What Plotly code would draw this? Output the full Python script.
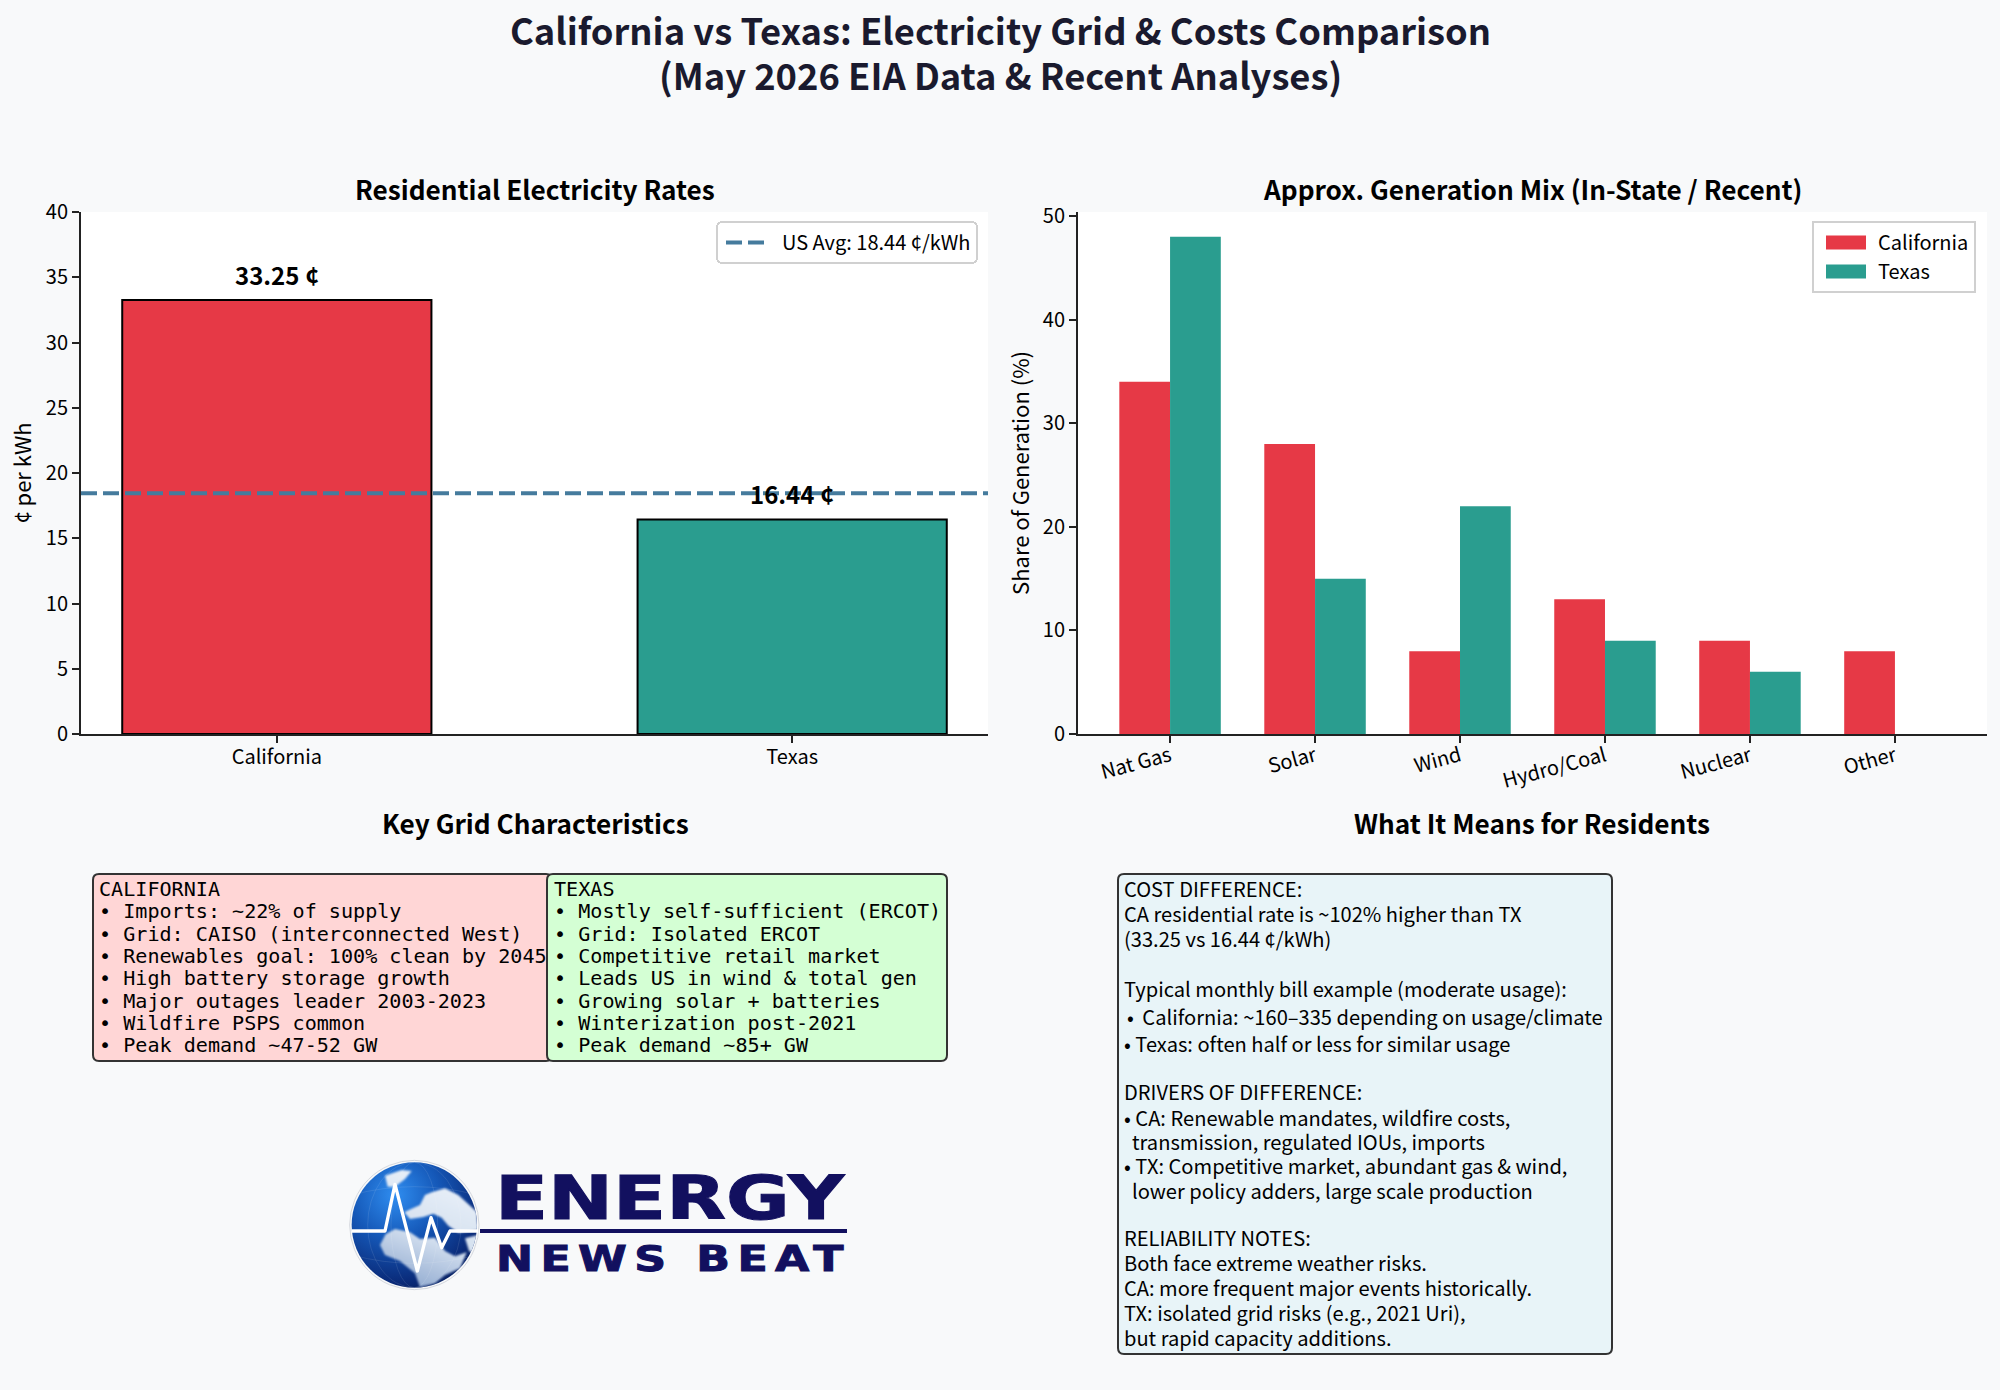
import base64

import plotly.graph_objects as go

# Chart data
states = ["California", "Texas"]
rates = [33.25, 16.44]
us_avg = 18.44
sources = ["Nat Gas", "Solar", "Wind", "Hydro/Coal", "Nuclear", "Other"]
ca_mix = [34, 28, 8, 13, 9, 8]
tx_mix = [48, 15, 22, 9, 6, 0]

title_lines = [
    "California vs Texas: Electricity Grid & Costs Comparison",
    "(May 2026 EIA Data & Recent Analyses)",
]
ca_lines = [
    "CALIFORNIA",
    "• Imports: ~22% of supply",
    "• Grid: CAISO (interconnected West)",
    "• Renewables goal: 100% clean by 2045",
    "• High battery storage growth",
    "• Major outages leader 2003-2023",
    "• Wildfire PSPS common",
    "• Peak demand ~47-52 GW",
]
tx_lines = [
    "TEXAS",
    "• Mostly self-sufficient (ERCOT)",
    "• Grid: Isolated ERCOT",
    "• Competitive retail market",
    "• Leads US in wind & total gen",
    "• Growing solar + batteries",
    "• Winterization post-2021",
    "• Peak demand ~85+ GW",
]
resident_lines = [
    "COST DIFFERENCE:",
    "CA residential rate is ~102% higher than TX",
    "(33.25 vs 16.44 ¢/kWh)",
    "Typical monthly bill example (moderate usage):",
    "•\u2009 California: ~160–335 depending on usage/climate",
    "• Texas: often half or less for similar usage",
    "DRIVERS OF DIFFERENCE:",
    "• CA: Renewable mandates, wildfire costs,",
    "transmission, regulated IOUs, imports",
    "• TX: Competitive market, abundant gas & wind,",
    "lower policy adders, large scale production",
    "RELIABILITY NOTES:",
    "Both face extreme weather risks.",
    "CA: more frequent major events historically.",
    "TX: isolated grid risks (e.g., 2021 Uri),",
    "but rapid capacity additions.",
]

W, H = 2000, 1390
FONT = "Noto Sans CJK JP"
RED, TEAL, BLUE = "#e63946", "#2a9d8f", "#457b9d"
NAVY = "#12105f"
AXIS = "#222222"


def px(x):
    return x / W


def py(y):
    return 1 - y / H


def add_text(fig, x, y, text, size, color="#000000", bold=False, family=FONT, anchor="left"):
    fig.add_annotation(
        xref="paper",
        yref="paper",
        x=px(x),
        y=py(y),
        text=text,
        showarrow=False,
        xanchor=anchor,
        yanchor="middle",
        align=anchor,
        borderpad=0,
        font=dict(size=size, color=color, family=family, weight="bold" if bold else "normal"),
    )


def add_box(fig, x0, y0, x1, y1, fill, r=6):
    # rounded rectangle, given in page pixels
    xs = [px(x0), px(x0 + r), px(x1 - r), px(x1)]
    ys = [py(y0), py(y0 + r), py(y1 - r), py(y1)]
    path = (
        f"M {xs[1]} {ys[0]} L {xs[2]} {ys[0]} Q {xs[3]} {ys[0]} {xs[3]} {ys[1]} "
        f"L {xs[3]} {ys[2]} Q {xs[3]} {ys[3]} {xs[2]} {ys[3]} "
        f"L {xs[1]} {ys[3]} Q {xs[0]} {ys[3]} {xs[0]} {ys[2]} "
        f"L {xs[0]} {ys[1]} Q {xs[0]} {ys[0]} {xs[1]} {ys[0]} Z"
    )
    fig.add_shape(
        type="path",
        path=path,
        xref="paper",
        yref="paper",
        fillcolor=fill,
        line=dict(color="#333333", width=2),
        layer="below",
    )


def globe_source():
    svg = """<svg xmlns="http://www.w3.org/2000/svg" viewBox="0 0 420 420">
<defs>
<radialGradient id="o" gradientUnits="userSpaceOnUse" cx="150" cy="120" r="330">
<stop offset="0" stop-color="#2f8df0"/><stop offset="0.4" stop-color="#1558b8"/>
<stop offset="0.8" stop-color="#0a2a78"/><stop offset="1" stop-color="#061a50"/></radialGradient>
<linearGradient id="l" gradientUnits="userSpaceOnUse" x1="300" y1="80" x2="180" y2="400">
<stop offset="0" stop-color="#e8eff8"/><stop offset="0.5" stop-color="#d4e0ef"/>
<stop offset="1" stop-color="#8ea8cf"/></linearGradient>
<clipPath id="c"><circle cx="208" cy="210" r="188"/></clipPath>
<filter id="b"><feGaussianBlur stdDeviation="2.5"/></filter>
</defs>
<circle cx="208" cy="210" r="194" fill="#f8f9fa" stroke="#d5d8de" stroke-width="3"/>
<circle cx="208" cy="210" r="188" fill="url(#o)"/>
<g clip-path="url(#c)"><g fill="url(#l)" filter="url(#b)">
<path d="M105 270 L122 238 L150 222 L195 232 L225 252 L270 248 L300 288 L330 304 L365 292 L345 340 L300 360 L270 385 L225 396 L210 355 L165 318 L120 300 Z"/>
<path d="M260 112 L300 100 L340 120 L395 170 L400 225 L340 233 L310 212 L290 188 L265 176 L235 186 L195 192 L178 172 L198 162 L225 150 L240 120 Z"/>
<path d="M120 62 L170 45 L200 48 L180 72 L150 95 L128 95 Z"/>
<path d="M360 250 L400 240 L395 300 L372 288 Z"/>
</g></g>
<g clip-path="url(#c)" fill="none" stroke="#ffffff" stroke-opacity="0.2" stroke-width="1.5">
<ellipse cx="208" cy="210" rx="70" ry="188"/><ellipse cx="208" cy="210" rx="140" ry="188"/>
<path d="M20 120 Q208 70 396 120 M20 300 Q208 350 396 300"/>
</g>
<polyline points="20,228 120,228 150,88 217,348 258,188 290,278 315,228 400,228"
 fill="none" stroke="#ffffff" stroke-width="10" stroke-linejoin="round"/>
</svg>"""
    return "data:image/svg+xml;base64," + base64.b64encode(svg.encode()).decode()


fig = go.Figure()

# Residential rates
fig.add_trace(
    go.Bar(
        x=states,
        y=rates,
        width=0.6,
        marker=dict(color=[RED, TEAL], line=dict(color="#000000", width=2)),
        showlegend=False,
        xaxis="x",
        yaxis="y",
    )
)
for state, rate in zip(states, rates):
    fig.add_annotation(
        x=state,
        y=rate,
        xref="x",
        yref="y",
        yshift=6,
        yanchor="bottom",
        text=f"{rate:.2f} ¢",
        showarrow=False,
        font=dict(size=24, family=FONT, weight="bold", color="#000000"),
    )
fig.add_shape(
    type="line",
    xref="x domain",
    yref="y",
    x0=0,
    x1=1,
    y0=us_avg,
    y1=us_avg,
    line=dict(color=BLUE, width=4, dash="16px 6px"),
    showlegend=True,
    name=f"US Avg: {us_avg} ¢/kWh",
    legend="legend",
)

# Generation mix
for name, values, color in [("California", ca_mix, RED), ("Texas", tx_mix, TEAL)]:
    fig.add_trace(
        go.Bar(
            x=sources,
            y=values,
            name=name,
            marker=dict(color=color, line=dict(width=0)),
            xaxis="x2",
            yaxis="y2",
            legend="legend2",
        )
    )

# Text blocks
for i, line in enumerate(title_lines):
    add_text(fig, 1000, 29 + i * 45, line, 36.3, "#1a1a2e", True, anchor="center")
add_text(fig, 535, 189, "Residential Electricity Rates", 26.2, bold=True, anchor="center")
add_text(fig, 1532, 189, "Approx. Generation Mix (In-State / Recent)", 26.2, bold=True, anchor="center")
add_text(fig, 535, 823, "Key Grid Characteristics", 26.2, bold=True, anchor="center")
add_text(fig, 1532, 823, "What It Means for Residents", 26.2, bold=True, anchor="center")

add_box(fig, 93, 874, 552, 1061, "#ffd6d6")
add_box(fig, 547, 874, 947, 1061, "#d4ffd4")
for i, (ca, tx) in enumerate(zip(ca_lines, tx_lines)):
    y = 889 + i * 22.3
    add_text(fig, 98, y, ca, 20.1, family="DejaVu Sans Mono")
    add_text(fig, 553, y, tx, 20.1, family="DejaVu Sans Mono")

add_box(fig, 1118, 874, 1612, 1354, "#e8f4f8")
resident_y = [889, 914, 939, 988, 1016, 1043, 1091, 1117, 1141, 1165, 1190, 1237, 1262, 1287, 1312, 1337]
resident_x = [1123, 1123, 1123, 1123, 1126, 1123, 1123, 1123, 1131, 1123, 1131, 1123, 1123, 1123, 1123, 1123]
for x, y, line in zip(resident_x, resident_y, resident_lines):
    add_text(fig, x, y, line, 20.1)

# Logo
fig.add_layout_image(
    source=globe_source(),
    xref="paper",
    yref="paper",
    x=px(345),
    y=py(1155),
    sizex=px(140),
    sizey=140 / H,
    sizing="stretch",
    xanchor="left",
    yanchor="top",
    layer="above",
)
fig.add_shape(
    type="rect",
    xref="paper",
    yref="paper",
    x0=px(480),
    x1=px(847),
    y0=py(1229),
    y1=py(1233),
    fillcolor=NAVY,
    line=dict(width=0),
)
add_text(fig, 494, 1198, "ENERGY", 60, NAVY, True, "DejaVu Sans")
add_text(fig, 495, 1258, '<span style="letter-spacing:6px">NEWS BEAT</span>', 36, NAVY, True, "DejaVu Sans")

axis_style = dict(
    showgrid=False,
    zeroline=False,
    showline=True,
    linecolor=AXIS,
    linewidth=2,
    ticks="outside",
    ticklen=7,
    tickwidth=1.5,
    tickcolor=AXIS,
    tickfont=dict(size=20, family=FONT, color="#000000"),
)
legend_style = dict(
    xref="paper",
    yref="paper",
    xanchor="right",
    yanchor="top",
    bgcolor="#ffffff",
    bordercolor="#d0d0d0",
    borderwidth=2,
    itemwidth=54,
    font=dict(size=20, family=FONT, color="#000000"),
)

fig.update_layout(
    width=W,
    height=H,
    autosize=False,
    margin=dict(l=0, r=0, t=0, b=0, autoexpand=False),
    paper_bgcolor="#f8f9fa",
    plot_bgcolor="#ffffff",
    font=dict(family=FONT),
    barmode="group",
    bargap=0.3,
    bargroupgap=0,
    xaxis=dict(
        axis_style,
        domain=[px(81), px(988)],
        anchor="y",
        type="category",
        range=[-0.38, 1.38],
        ticklabelstandoff=-3,
    ),
    yaxis=dict(
        axis_style,
        domain=[py(734), py(212)],
        anchor="x",
        range=[0, 40],
        dtick=5,
        title=dict(text="¢ per kWh", font=dict(size=22, family=FONT, color="#000000"), standoff=8),
    ),
    xaxis2=dict(
        axis_style,
        domain=[px(1078), px(1987)],
        anchor="y2",
        type="category",
        range=[-0.635, 5.635],
        tickangle=-15,
        ticklabelstandoff=-6,
    ),
    yaxis2=dict(
        axis_style,
        domain=[py(734), py(212)],
        anchor="x2",
        range=[0, 50.4],
        dtick=10,
        title=dict(text="Share of Generation (%)", font=dict(size=22, family=FONT, color="#000000"), standoff=7),
    ),
    legend=dict(legend_style, x=px(978), y=py(221)),
    legend2=dict(legend_style, x=px(1976), y=py(221)),
)

# Page margin, wide legend swatches, rounded legend boxes and the extended logo lettering
post_script = """
document.body.style.margin = '0';
var gd = document.getElementById('{plot_id}');
gd.querySelectorAll('.legend .bg').forEach(function (r) { r.setAttribute('rx', 5); r.setAttribute('ry', 5); });
gd.querySelectorAll('.legendpoints path').forEach(function (p) { p.setAttribute('d', 'M-20,7H20V-7H-20Z'); });
gd.querySelectorAll('.legendlines path').forEach(function (p) { p.setAttribute('d', 'M8,0h38'); });
var stretch = {'ENERGY': 1.295, 'NEWS BEAT': 1.23};
gd.querySelectorAll('text.annotation-text').forEach(function (t) {
    var s = stretch[t.textContent];
    if (s) {
        t.style.transformBox = 'fill-box';
        t.style.transformOrigin = 'left center';
        t.style.transform = 'scaleX(' + s + ')';
        t.style.stroke = '#12105f';
        t.style.strokeWidth = '1px';
    }
});
"""
fig.write_html("out.html", post_script=post_script, config=dict(displayModeBar=False))
